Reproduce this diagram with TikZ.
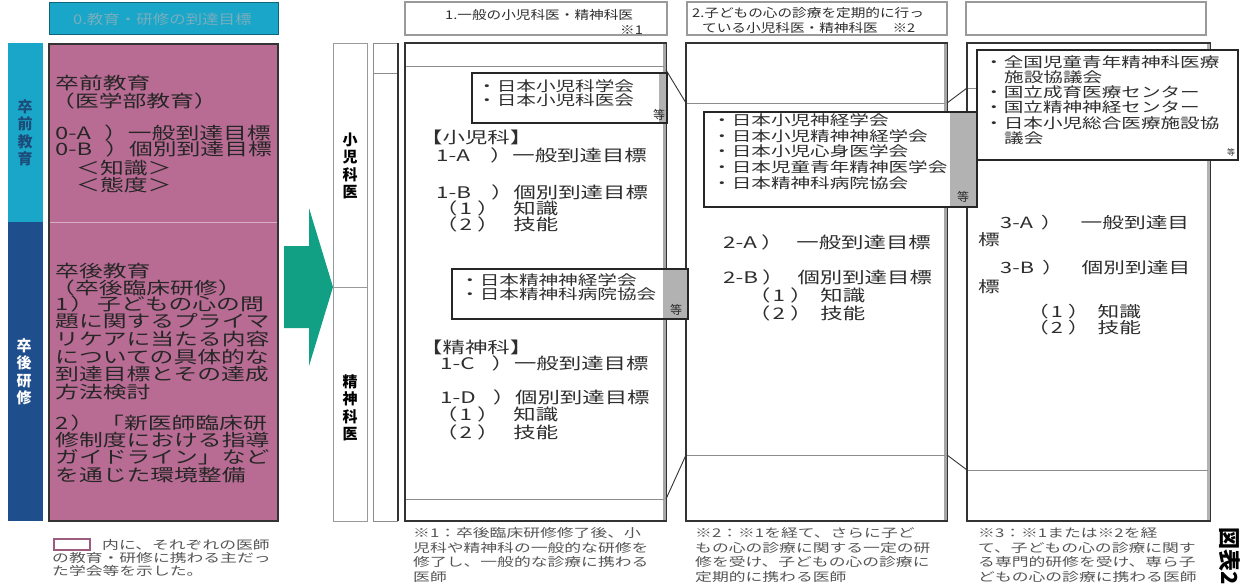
\documentclass[tikz,border=0pt]{standalone}
\usepackage{fontspec}
\newfontfamily\jpA[FakeStretch=1.4]{Noto Sans CJK JP}
\newfontfamily\jpH[FakeStretch=1.22]{Noto Sans CJK JP}
\newfontfamily\jpS{Noto Sans CJK JP}
\definecolor{cyanb}{HTML}{1AA6C8}
\definecolor{navyb}{HTML}{1F4E8C}
\definecolor{pinkb}{HTML}{B86C93}
\definecolor{greena}{HTML}{11A083}
\definecolor{txt}{HTML}{2E2E2E}
\definecolor{ftxt}{HTML}{555555}
\definecolor{lframe}{HTML}{9A9A9A}
\definecolor{cyantxt}{HTML}{78AEBE}
\definecolor{navytxt}{HTML}{1C4D7A}
\newcommand\K[1]{\kern#1pt\relax}
\begin{document}
\begin{tikzpicture}[x=1pt,y=-1pt,
  ln/.style={inner sep=0pt,anchor=west,text=txt},
  pk/.style={ln,font=\jpA\fontsize{17}{17}\selectfont,text=black!85},
  mt/.style={ln,font=\jpA\fontsize{16}{16}\selectfont},
  mtc/.style={ln,font=\jpA\fontsize{15.5}{15.5}\selectfont},
  st/.style={ln,font=\jpA\fontsize{14}{14}\selectfont},
  fn/.style={ln,font=\jpA\fontsize{12}{12}\selectfont,text=ftxt},
  hd/.style={ln,font=\jpH\fontsize{12}{12}\selectfont},
  etc/.style={inner sep=0pt,font=\jpS\fontsize{12}{12}\selectfont,text=txt},
  vlab/.style={inner sep=0pt,align=center,font=\jpS\bfseries\fontsize{15}{17.5}\selectfont},
  hbox/.style={draw=lframe,line width=1.4pt,fill=white},
  col/.style={draw=black!80,line width=1.2pt},
  sbox/.style={draw=black!85,line width=2pt,fill=white},
  thinl/.style={draw=black!45,line width=0.6pt},
  fold/.style={draw=black!80,line width=0.9pt},
]
\useasboundingbox (0,0) rectangle (1242,588);
\fill[white] (0,0) rectangle (1242,588);

% ---------- left part ----------
\draw[fill=cyanb,draw=cyanb!60!black,line width=1pt] (49,3) rectangle (278,35);
\node[hd,font=\jpH\fontsize{13.5}{13.5}\selectfont,text=cyantxt] (h0) at (73,19) {0.教育・研修の到達目標};

\fill[cyanb] (8,43) rectangle (43,222);
\fill[navyb] (8,222) rectangle (43,521);
\node[vlab,text=navytxt] (sz1) at (25,133) {卒\\前\\教\\育};
\node[vlab,text=white] (sz2) at (24,372) {卒\\後\\研\\修};

\draw[fill=pinkb,draw=black!80,line width=1.2pt] (49,44) rectangle (278,521);
\draw[pinkb!55!white,line width=1pt] (50,223) -- (277,223);

\node[pk] (p1) at (55,83) {卒前教育};
\node[pk] (p2) at (51,101) {（医学部教育）};
\node[pk] (p3) at (55,133) {0-A\K{13}）一般到達目標};
\node[pk] (p4) at (55,149) {0-B\K{13}）個別到達目標};
\node[pk] (p5) at (76,168) {＜知識＞};
\node[pk] (p6) at (76,185) {＜態度＞};
\node[pk] (p7) at (55,271) {卒後教育};
\node[pk] (p8) at (51,288) {（卒後臨床研修）};
\foreach \t [count=\i] in {1\K{2}）\K{3}子どもの心の問,題に関するプライマ,リケアに当たる内容,についての具体的な,到達目標とその達成,方法検討}
  \node[pk] (pa\i) at (55,{304+(\i-1)*17.6}) {\t};
\foreach \t [count=\i] in {2\K{2}）\K{6}「新医師臨床研,修制度における指導,ガイドライン」など,を通じた環境整備}
  \node[pk] (pb\i) at (55,{423+(\i-1)*17.3}) {\t};

% legend
\draw[draw=pinkb!85!black,line width=1.6pt,fill=white] (54,539) rectangle (90,550);
\node[fn] (lg1) at (102,545) {内に、それぞれの医師};
\node[fn] (lg2) at (52,558) {の教育・研修に携わる主だっ};
\node[fn] (lg3) at (52,571) {た学会等を示した。};

% green arrow
\fill[greena] (284,246) -- (309,246) -- (309,208) -- (333,287) -- (309,366) -- (309,328) -- (284,328) -- cycle;

% ---------- column labels ----------
\draw[lframe,line width=0.8pt] (333,43) rectangle (367,287);
\draw[lframe,line width=0.8pt] (333,287) rectangle (367,521);
\node[vlab,text=black] (lb1) at (350,166) {小\\児\\科\\医};
\node[vlab,text=black] (lb2) at (350,408) {精\\神\\科\\医};

% narrow strip
\draw[black!45,line width=0.8pt] (373,43) -- (373,521);
\draw[black!45,line width=0.8pt] (373,43) -- (398,43);
\draw[black!45,line width=0.8pt] (373,521) -- (398,521);
\draw[black!45,line width=0.6pt] (373,73) -- (398,73);
\draw[black!80,line width=1.5pt] (398,43) -- (398,521);

% ---------- headers ----------
\draw[hbox] (405,2) rectangle (667,35);
\draw[hbox] (687,2) rectangle (947,35);
\draw[hbox] (966,2) rectangle (1206,35);
\node[hd] (h1a) at (445,15) {1.一般の小児科医・精神科医};
\node[hd] (h1b) at (620,30) {※1};
\node[hd] (h2a) at (692,13) {2.子どもの心の診療を定期的に行っ};
\node[hd] (h2b) at (702,28) {ている小児科医・精神科医　※2};

% ---------- columns ----------
\draw[col] (405,43) rectangle (666,521);
\draw[black!35,line width=3pt] (664.5,44) -- (664.5,520);
\draw[col] (686,43) rectangle (947,521);
\draw[black!35,line width=3pt] (945.5,44) -- (945.5,520);
\draw[col] (967,43) rectangle (1210,521);
\draw[black!30,line width=2.5pt] (1208.5,44) -- (1208.5,520);

\draw[thinl] (406,66) -- (664,66);
\draw[thinl] (406,499) -- (664,499);
\draw[thinl] (687,103) -- (945,103);
\draw[thinl] (687,455) -- (945,455);
\draw[thinl] (968,88) -- (1208,88);
\draw[thinl] (968,470) -- (1208,470);
\coordinate (f1a) at (666,70);  \coordinate (f1b) at (686,103);
\coordinate (f2a) at (666,499); \coordinate (f2b) at (686,455);
\coordinate (f3a) at (947,103); \coordinate (f3b) at (967,88);
\coordinate (f4a) at (947,455); \coordinate (f4b) at (967,470);
\draw[fold] (f1a) -- (f1b);
\draw[fold] (f2a) -- (f2b);
\draw[fold] (f3a) -- (f3b);
\draw[fold] (f4a) -- (f4b);

% ---------- society boxes ----------
\draw[sbox] (472,73) rectangle (667,123);
\fill[black!30] (659,74) rectangle (666,122);
\node[st] (s1a) at (477,86) {・日本小児科学会};
\node[st] (s1b) at (477,100) {・日本小児科医会};
\node[etc] (s1e) at (659,115) {等};

\draw[sbox] (452,269) rectangle (688,319);
\fill[black!30] (663,270) rectangle (687,318);
\node[st] (s2a) at (460,280) {・日本精神神経学会};
\node[st] (s2b) at (460,294) {・日本精神科病院協会};
\node[etc] (s2e) at (676,310) {等};

\draw[sbox] (704,112) rectangle (977,207);
\fill[black!30] (950,113) rectangle (976,206);
\foreach \t [count=\i] in {・日本小児神経学会,・日本小児精神神経学会,・日本小児心身医学会,・日本児童青年精神医学会,・日本精神科病院協会}
  \node[st] (s3\i) at (712,{120+(\i-1)*15.8}) {\t};
\node[etc] (s3e) at (963,197) {等};

\draw[sbox] (977,50) rectangle (1238,160);
\node[st] (s4a) at (984,62) {・全国児童青年精神科医療};
\node[st] (s4b) at (1004,77) {施設協議会};
\node[st] (s4c) at (984,92) {・国立成育医療センター};
\node[st] (s4d) at (984,107) {・国立精神神経センター};
\node[st] (s4e) at (984,123) {・日本小児総合医療施設協};
\node[st] (s4f) at (1004,138) {議会};
\node[etc,font=\jpS\fontsize{8}{8}\selectfont] (s4g) at (1231,152) {等};

% ---------- column texts ----------
\node[mt] (c1a) at (420,137) {【小児科】};
\node[mt] (c1b) at (436,155) {1-A\K{20}）一般到達目標};
\node[mt] (c1c) at (436,192) {1-B\K{20}）個別到達目標};
\node[mt] (c1d) at (435,208) {（\K{2}1\K{5}）\K{14}知識};
\node[mt] (c1e) at (435,224) {（\K{2}2\K{5}）\K{14}技能};
\node[mt] (c1f) at (420,347) {【精神科】};
\node[mt] (c1g) at (440,363) {1-C\K{17}）一般到達目標};
\node[mt] (c1h) at (440,397) {1-D\K{17}）個別到達目標};
\node[mt] (c1i) at (435,414) {（\K{2}1\K{5}）\K{14}知識};
\node[mt] (c1j) at (435,432) {（\K{2}2\K{5}）\K{14}技能};

\node[mt] (c2a) at (723,242) {2-A\K{4}）\K{13}一般到達目標};
\node[mt] (c2b) at (723,277) {2-B\K{4}）\K{13}個別到達目標};
\node[mt] (c2c) at (748,295) {（\K{2}1\K{5}）\K{8}知識};
\node[mt] (c2d) at (748,313) {（\K{2}2\K{5}）\K{8}技能};

\node[mtc] (c3a) at (1000,223) {3-A\K{8}）\K{18}一般到達目};
\node[mtc] (c3b) at (978,240) {標};
\node[mtc] (c3c) at (1000,268) {3-B\K{8}）\K{18}個別到達目};
\node[mtc] (c3d) at (978,287) {標};
\node[mtc] (c3e) at (1027,312) {（\K{2}1\K{5}）\K{8}知識};
\node[mtc] (c3f) at (1027,328) {（\K{2}2\K{5}）\K{8}技能};

% ---------- footnotes ----------
\foreach \t [count=\i] in {※1：卒後臨床研修修了後、小,児科や精神科の一般的な研修を,修了し、一般的な診療に携わる,医師}
  \node[fn] (fa\i) at (413,{533+(\i-1)*14.6}) {\t};
\foreach \t [count=\i] in {※2：※1を経て、さらに子ど,もの心の診療に関する一定の研,修を受け、子どもの心の診療に,定期的に携わる医師}
  \node[fn] (fb\i) at (695,{533+(\i-1)*14.6}) {\t};
\foreach \t [count=\i] in {※3：※1または※2を経,て、子どもの心の診療に関す,る専門的研修を受け、専ら子,どもの心の診療に携わる医師}
  \node[fn] (fc\i) at (978,{533+(\i-1)*14.6}) {\t};

\node[inner sep=0pt,rotate=-90,font=\jpS\bfseries\fontsize{22}{22}\selectfont,text=black] (zh) at (1230,556) {図表2};
\end{tikzpicture}
\end{document}
